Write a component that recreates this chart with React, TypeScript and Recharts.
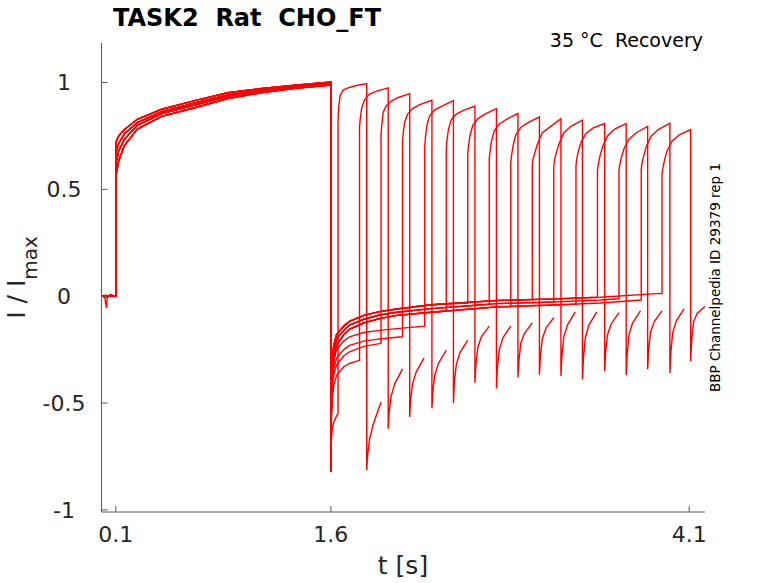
import React from 'react';
import { LineChart, Line, XAxis, YAxis } from 'recharts';

// ---------- data ----------
const xTicks = [0.1, 1.6, 4.1];
const xTickLabels = ['0.1', '1.6', '4.1'];
const yTicks = [-1, -0.5, 0, 0.5, 1];
const yTickLabels = ['-1', '-0.5', '0', '0.5', '1'];

// baseline before the conditioning pulse
const baselineTimes = [0, 0.02, 0.035, 0.04, 0.06, 0.1];
const baselineFlat = [0.003, -0.004, 0.002, -0.003, 0.004, 0.0];
const baselineDip = [0.0, 0.005, -0.055, -0.006, 0.0, 0.0];

// conditioning pulse (four traces spanning the band)
const pulse1Times = [0.1, 0.12, 0.16, 0.25, 0.42, 0.65, 0.88, 1.12, 1.35, 1.6];
const pulse1A = [0.72, 0.75, 0.78, 0.828, 0.875, 0.915, 0.952, 0.972, 0.988, 1.002];
const pulse1B = [0.67, 0.715, 0.76, 0.812, 0.864, 0.904, 0.942, 0.966, 0.982, 0.996];
const pulse1C = [0.62, 0.68, 0.735, 0.8, 0.855, 0.895, 0.935, 0.96, 0.978, 0.992];
const pulse1D = [0.56, 0.635, 0.705, 0.782, 0.842, 0.882, 0.925, 0.953, 0.973, 0.988];
const pulse1Variants = [pulse1A, pulse1B, pulse1C, pulse1D];
const sweepPulse1 = [0, 1, 2, 3, 0, 1, 2, 3, 0, 1, 2, 3, 0, 1, 2, 3];

// recovery tails after the conditioning pulse
const tail1Times = [1.6, 1.603, 1.61, 1.62, 1.64, 1.69, 1.73, 1.83, 1.94, 2.06, 2.3, 2.76, 3.2, 3.48, 3.87];
const tailU1 = [-0.82, -0.45, -0.3, -0.23, -0.18, -0.14, -0.118, -0.09, -0.072, -0.06, -0.04, -0.02, -0.012, -0.005, 0.012];
const tailU2 = [-0.82, -0.55, -0.38, -0.3, -0.23, -0.18, -0.155, -0.125, -0.105, -0.09, -0.075, -0.05, -0.04, -0.032, -0.01];
const tailU3 = [-0.82, -0.5, -0.34, -0.26, -0.2, -0.16, -0.135, -0.108, -0.088, -0.075, -0.058, -0.035, -0.026, -0.018, 0.0];
const tailL0 = [-0.82, -0.68, -0.62, -0.59, -0.56];
const tailL1 = [-0.82, -0.6, -0.48, -0.42, -0.37, -0.33, -0.315];
const tailL2 = [-0.82, -0.55, -0.43, -0.37, -0.32, -0.28, -0.26, -0.235, -0.222];
const tailL3 = [-0.82, -0.52, -0.4, -0.34, -0.29, -0.25, -0.23, -0.21, -0.2, -0.192];
const tailL4 = [-0.82, -0.5, -0.36, -0.3, -0.25, -0.21, -0.19, -0.17, -0.16, -0.152];
const tail1Curves = [tailL0, tailL1, tailL2, tailL3, tailL4, tailU1, tailU2, tailU3];
const sweepTail1 = [0, 1, 2, 3, 4, 6, 5, 7, 6, 5, 7, 6, 5, 7, 6, 5];

// test pulse timing
const riseTimes = [1.65, 1.8, 1.95, 2.1, 2.255, 2.405, 2.555, 2.705, 2.855, 3.005, 3.155, 3.31, 3.46, 3.61, 3.765, 3.91];
const endTimes = [1.85, 2.0, 2.15, 2.305, 2.455, 2.605, 2.755, 2.905, 3.055, 3.205, 3.355, 3.51, 3.66, 3.81, 3.965, 4.11];
const tailFrom = [-0.55, -0.3, -0.22, -0.19, -0.14, -0.07, -0.032, -0.038, -0.048, -0.016, -0.027, -0.037, -0.005, -0.012, -0.018, 0.012];

// test pulse shape (offsets after rise, last value is the peak at the end)
const pulse2Offsets = [0, 0.005, 0.015, 0.035, 0.07, 0.12];
const pulse2Values = [
  [0.82, 0.89, 0.94, 0.965, 0.975, 0.985, 0.995],
  [0.79, 0.83, 0.88, 0.92, 0.946, 0.96, 0.975],
  [0.76, 0.8, 0.86, 0.89, 0.912, 0.93, 0.948],
  [0.72, 0.765, 0.815, 0.852, 0.878, 0.897, 0.917],
  [0.7, 0.745, 0.8, 0.845, 0.872, 0.89, 0.915],
  [0.69, 0.73, 0.78, 0.825, 0.852, 0.87, 0.89],
  [0.67, 0.7, 0.75, 0.8, 0.83, 0.852, 0.878],
  [0.645, 0.675, 0.725, 0.775, 0.805, 0.828, 0.855],
  [0.625, 0.655, 0.7, 0.755, 0.79, 0.812, 0.839],
  [0.613, 0.64, 0.665, 0.71, 0.765, 0.79, 0.831],
  [0.605, 0.635, 0.665, 0.71, 0.765, 0.795, 0.824],
  [0.613, 0.64, 0.675, 0.72, 0.762, 0.788, 0.808],
  [0.59, 0.615, 0.65, 0.7, 0.75, 0.782, 0.808],
  [0.59, 0.615, 0.645, 0.69, 0.735, 0.765, 0.795],
  [0.59, 0.62, 0.65, 0.7, 0.75, 0.78, 0.81],
  [0.57, 0.595, 0.63, 0.68, 0.725, 0.755, 0.78],
];

// tail after the test pulse (offsets after the end)
const tail2Offsets = [0, 0.007, 0.02, 0.045, 0.1];
const tail2Values = [
  [-0.814, -0.74, -0.67, -0.6, -0.495],
  [-0.62, -0.54, -0.47, -0.41, -0.34],
  [-0.565, -0.48, -0.41, -0.355, -0.29],
  [-0.525, -0.44, -0.37, -0.315, -0.253],
  [-0.5, -0.4, -0.32, -0.265, -0.206],
  [-0.405, -0.32, -0.24, -0.19, -0.14],
  [-0.432, -0.335, -0.25, -0.195, -0.14],
  [-0.38, -0.3, -0.22, -0.175, -0.125],
  [-0.367, -0.28, -0.2, -0.15, -0.1],
  [-0.373, -0.28, -0.19, -0.135, -0.073],
  [-0.39, -0.29, -0.195, -0.135, -0.073],
  [-0.35, -0.26, -0.18, -0.13, -0.077],
  [-0.37, -0.27, -0.18, -0.125, -0.069],
  [-0.342, -0.25, -0.17, -0.12, -0.069],
  [-0.359, -0.26, -0.17, -0.115, -0.058],
  [-0.303, -0.206, -0.12, -0.081, -0.047],
];

// ---------- build sweeps ----------
type Pt = { t: number; v: number };
const sweeps: Pt[][] = riseTimes.map((tr, k) => {
  const pts: Pt[] = [];
  const base = k === 0 ? baselineDip : baselineFlat;
  baselineTimes.forEach((t, i) => pts.push({ t, v: base[i] }));
  const p1 = pulse1Variants[sweepPulse1[k]];
  pulse1Times.forEach((t, i) => pts.push({ t, v: p1[i] }));
  const tc = tail1Curves[sweepTail1[k]];
  tc.forEach((v, i) => {
    if (tail1Times[i] < tr) pts.push({ t: tail1Times[i], v });
  });
  pts.push({ t: tr, v: tailFrom[k] });
  const p2 = pulse2Values[k];
  pulse2Offsets.forEach((o, i) => pts.push({ t: tr + o, v: p2[i] }));
  pts.push({ t: endTimes[k], v: p2[p2.length - 1] });
  const t2 = tail2Values[k];
  tail2Offsets.forEach((o, i) => pts.push({ t: endTimes[k] + o, v: t2[i] }));
  return pts;
});

const AXIS = '#5a5a5a';
const TXT = '#262626';
const FONT = "'DejaVu Sans', sans-serif";

const YTick = (props: any) => {
  const { x, y, payload } = props;
  const idx = yTicks.indexOf(payload.value);
  return (
    <g>
      <line x1={x} x2={x + 6} y1={y} y2={y} stroke={AXIS} strokeWidth={1} />
      <text x={x - 37.5} y={y} dy="0.36em" textAnchor="middle" fontSize={22} fontFamily={FONT} fill={TXT}>
        {yTickLabels[idx]}
      </text>
    </g>
  );
};

const XTick = (props: any) => {
  const { x, y, payload } = props;
  const idx = xTicks.indexOf(payload.value);
  return (
    <g>
      <line x1={x} x2={x} y1={y} y2={y - 6} stroke={AXIS} strokeWidth={1} />
      <text x={x} y={y + 30} textAnchor="middle" fontSize={22} fontFamily={FONT} fill={TXT}>
        {xTickLabels[idx]}
      </text>
    </g>
  );
};

export default function App() {
  return (
    <div style={{ position: 'absolute', left: 0, top: 0, width: 778, height: 583, background: '#fff' }}>
      <LineChart width={778} height={583} margin={{ top: 43, right: 73, bottom: 41, left: 0 }}>
        <XAxis
          type="number"
          dataKey="t"
          domain={[0, 4.21]}
          ticks={xTicks}
          allowDataOverflow
          height={30}
          tickSize={0}
          tickMargin={0}
          tickLine={false}
          axisLine={{ stroke: AXIS, strokeWidth: 1 }}
          tick={<XTick />}
          interval={0}
        />
        <YAxis
          type="number"
          domain={[-1.01, 1.185]}
          ticks={yTicks}
          allowDataOverflow
          width={101.5}
          tickSize={0}
          tickMargin={0}
          tickLine={false}
          axisLine={{ stroke: AXIS, strokeWidth: 1 }}
          tick={<YTick />}
          interval={0}
        />
        {sweeps.map((d, k) => (
          <Line
            key={k}
            data={d}
            dataKey="v"
            type="linear"
            stroke="#ff0000"
            strokeWidth={1.4}
            dot={false}
            activeDot={false}
            isAnimationActive={false}
          />
        ))}
      </LineChart>
      <svg width={778} height={583} style={{ position: 'absolute', left: 0, top: 0, pointerEvents: 'none' }}>
        <text x={113} y={26} fontSize={24} fontWeight="bold" fontFamily={FONT} fill="#000" style={{ whiteSpace: 'pre' }}>
          {'TASK2  Rat  CHO_FT'}
        </text>
        <text x={703} y={47} textAnchor="end" fontSize={19} fontFamily={FONT} fill="#000" style={{ whiteSpace: 'pre' }}>
          {'35 °C  Recovery'}
        </text>
        <text x={403} y={574} textAnchor="middle" fontSize={25} fontFamily={FONT} fill={TXT}>
          t [s]
        </text>
        <text transform="translate(25,277.5) rotate(-90)" textAnchor="middle" fontSize={25} fontFamily={FONT} fill={TXT} style={{ whiteSpace: 'pre' }}>
          {'I / I'}
          <tspan fontSize={20} dy={12}>max</tspan>
        </text>
        <text transform="translate(720,277.5) rotate(-90)" textAnchor="middle" fontSize={13.5} fontFamily={FONT} fill="#000">
          BBP Channelpedia ID 29379 rep 1
        </text>
      </svg>
    </div>
  );
}
